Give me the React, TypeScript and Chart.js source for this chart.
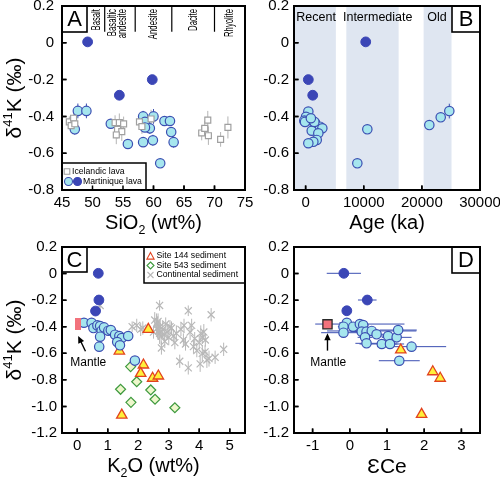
import React, { useEffect, useRef } from "react";
import { Chart, registerables } from "chart.js";

Chart.register(...registerables);

const FONT = "'Liberation Sans', Arial, Helvetica, sans-serif";
const W = 500;
const H = 479;

// ---------------- shared ticks ----------------
const D41K_TICKS_TOP = [-0.8, -0.6, -0.4, -0.2, 0, 0.2];
const D41K_TICKS_BOTTOM = [-1.2, -1.0, -0.8, -0.6, -0.4, -0.2, 0, 0.2];

// ---------------- Panel A: δ41K vs SiO2 ----------------
const SIO2_TICKS = [45, 50, 55, 60, 65, 70, 75];
const ICE_SIO2 = [46.2, 46.5, 46.9, 47.1, 53.7, 54.4, 55.1, 54.1, 54.8, 53.9, 57.7, 58.1, 59.6, 67.9, 68.4, 68.9, 69.0, 71.0, 72.2];
const ICE_D41K = [-0.43, -0.45, -0.41, -0.44, -0.434, -0.434, -0.441, -0.47, -0.483, -0.501, -0.43, -0.455, -0.414, -0.49, -0.465, -0.42, -0.505, -0.525, -0.46];
const ICE_ERR = [0.03, 0.04, 0.03, 0.03, 0.04, 0.05, 0.04, 0.05, 0.05, 0.05, 0.04, 0.04, 0.05, 0.04, 0.04, 0.05, 0.05, 0.04, 0.06];
const A_LIGHT_SIO2 = [47.6, 49.0, 47.1, 53.0, 55.8, 58.3, 58.6, 60.0, 59.4, 58.6, 58.3, 59.9, 61.1, 61.8, 62.7, 62.9, 63.3];
const A_LIGHT_D41K = [-0.37, -0.37, -0.47, -0.44, -0.55, -0.4, -0.43, -0.4, -0.465, -0.46, -0.54, -0.53, -0.655, -0.425, -0.425, -0.485, -0.54];
const A_LIGHT_ERR = [0.04, 0.04, 0.03, 0.02, 0.02, 0.03, 0.02, 0.04, 0.03, 0.02, 0.02, 0.03, 0.02, 0.02, 0.02, 0.02, 0.03];
const A_DARK_SIO2 = [49.2, 54.4, 59.8];
const A_DARK_D41K = [0.005, -0.285, -0.2];
const ROCK_BOUNDS = [52, 57, 63, 70];
const ROCK_BOUND_BOTTOM = 0.06;
const ROCK_NAMES = ["Basalt", "Basaltic", "andesite", "Andesite", "Dacite", "Rhyolite"];
const ROCK_NAME_SIO2 = [50.6, 53.3, 55.0, 60.0, 66.5, 72.4];

// ---------------- Panel B: δ41K vs Age ----------------
const AGE_TICKS = [0, 10000, 20000, 30000];
const ERA_NAMES = ["Recent", "Intermediate", "Old"];
const ERA_START = [-2000, 7000, 20300];
const ERA_END = [5200, 16000, 25100];
const ERA_LABEL_AGE = [1800, 12400, 22600];
const ERA_LABEL_D41K = 0.135;
const B_LIGHT_AGE = [465, 69, -224, 757, 1617, 2478, 2873, 1049, 2185, 1910, 1325, 465, -100, 1500, 900, 10615, 8895, 21280, 23240, 24720];
const B_LIGHT_D41K = [-0.374, -0.402, -0.423, -0.42, -0.434, -0.456, -0.465, -0.478, -0.492, -0.528, -0.538, -0.546, -0.43, -0.43, -0.41, -0.47, -0.655, -0.447, -0.405, -0.371];
const B_LIGHT_ERR = [0.02, 0.02, 0.02, 0.02, 0.02, 0.02, 0.02, 0.02, 0.02, 0.02, 0.02, 0.02, 0.02, 0.02, 0.02, 0.02, 0.02, 0.02, 0.02, 0.04];
const B_DARK_AGE = [465, 1220, 10340];
const B_DARK_D41K = [-0.2, -0.285, 0.005];

// ---------------- Panel C: δ41K vs K2O ----------------
const K2O_TICKS = [0, 1, 2, 3, 4, 5];
const C_LIGHT_K2O = [0.22, 0.47, 0.53, 0.66, 0.75, 0.8, 0.88, 1.02, 1.1, 0.75, 0.72, 1.24, 1.38, 1.46, 1.67, 1.31, 1.4, 1.89];
const C_LIGHT_D41K = [-0.37, -0.37, -0.41, -0.39, -0.395, -0.43, -0.405, -0.43, -0.425, -0.475, -0.55, -0.46, -0.47, -0.485, -0.47, -0.515, -0.54, -0.655];
const C_DARK_K2O = [0.69, 0.71, 0.6];
const C_DARK_D41K = [0.002, -0.199, -0.282];
const SITE144_K2O = [2.33, 1.38, 2.17, 2.08, 2.47, 2.66, 1.46];
const SITE144_D41K = [-0.42, -0.583, -0.688, -0.751, -0.788, -0.771, -1.065];
const SITE543_K2O = [1.75, 1.95, 1.42, 2.41, 2.55, 1.76, 3.2];
const SITE543_D41K = [-0.7, -0.814, -0.871, -0.876, -0.946, -0.969, -1.01];
const CONT_K2O = [0.75, 1.8, 1.95, 2.08, 2.15, 2.54, 2.6, 2.63, 2.66, 2.7, 2.72, 2.75, 2.7, 2.8, 2.87, 2.76, 2.95, 3.04, 3.09, 3.2, 3.25, 3.36, 3.48, 3.5, 3.64, 3.64, 3.7, 3.75, 3.81, 3.92, 4.03, 4.05, 4.1, 4.15, 4.2, 4.19, 4.25, 4.32, 4.39, 4.52, 4.8, 3.0, 3.15, 2.9, 3.55, 4.0, 4.1, 3.4, 2.5, 2.65, 2.85, 3.85];
const CONT_D41K = [-0.24, -0.4, -0.39, -0.42, -0.41, -0.35, -0.38, -0.41, -0.43, -0.45, -0.4, -0.47, -0.24, -0.42, -0.51, -0.56, -0.44, -0.4, -0.41, -0.52, -0.45, -0.66, -0.5, -0.39, -0.28, -0.71, -0.44, -0.39, -0.55, -0.58, -0.68, -0.45, -0.48, -0.44, -0.5, -0.59, -0.65, -0.64, -0.31, -0.63, -0.57, -0.48, -0.47, -0.38, -0.53, -0.52, -0.6, -0.42, -0.44, -0.36, -0.46, -0.49];
const CONT_ERR = [0.04, 0.04, 0.05, 0.05, 0.05, 0.06, 0.08, 0.08, 0.07, 0.08, 0.06, 0.07, 0.04, 0.06, 0.05, 0.05, 0.06, 0.05, 0.05, 0.05, 0.06, 0.05, 0.05, 0.05, 0.04, 0.05, 0.06, 0.05, 0.05, 0.05, 0.06, 0.06, 0.05, 0.06, 0.05, 0.05, 0.06, 0.06, 0.05, 0.05, 0.05, 0.06, 0.05, 0.05, 0.05, 0.05, 0.06, 0.05, 0.05, 0.06, 0.05, 0.05];
const MANTLE_C = { x: 0.03, y: -0.38 };
const MANTLE_C_ARROW = { fromX: 0.27, fromY: -0.585, toX: 0.03, toY: -0.47, textX: 0.36, textY: -0.67 };

// ---------------- Panel D: δ41K vs εCe ----------------
const ECE_TICKS = [-1, 0, 1, 2, 3];
const D_LIGHT_ECE = [-0.08, -0.17, -0.17, 0.09, 0.27, 0.36, 0.32, 0.45, 0.59, 0.72, 0.41, 0.45, 0.86, 1.03, 1.08, 1.26, 1.3, 1.66, 1.33];
const D_LIGHT_D41K = [-0.37, -0.4, -0.445, -0.4, -0.38, -0.387, -0.437, -0.437, -0.432, -0.457, -0.48, -0.525, -0.53, -0.47, -0.53, -0.48, -0.425, -0.55, -0.656];
const D_LIGHT_XERR = [0.2, 0.15, 0.6, 0.25, 1.2, 0.15, 0.3, 0.3, 1.2, 0.3, 0.2, 0.3, 0.6, 0.25, 0.2, 0.4, 0.5, 0.93, 0.55];
const D_DARK_ECE = [-0.16, 0.47, -0.08];
const D_DARK_D41K = [0.002, -0.199, -0.28];
const D_DARK_XERR = [0.46, 0.25, 0.12];
const D_SITE144_ECE = [1.37, 2.23, 2.43, 1.93];
const D_SITE144_D41K = [-0.575, -0.739, -0.788, -1.06];
const MANTLE_D = { x: -0.6, y: -0.382 };
const MANTLE_D_ARROW = { fromX: -0.6, fromY: -0.58, toX: -0.6, toY: -0.45, textX: -0.58, textY: -0.67 };

// ---------------- styling ----------------
const LIGHT_FILL = "#a6e6ee";
const BLUE_EDGE = "#3b4fb2";
const DARK_BLUE = "#3b46b6";
const TRI_FILL = "#fff03a";
const TRI_EDGE = "#e2421e";
const DIA_FILL = "#eef7cc";
const DIA_EDGE = "#3e9a3e";
const CONT_GRAY = "#b8b8b8";
const ICE_GRAY = "#a0a0a0";
const MANTLE_PINK = "#f2727c";
const BAND = "#dfe6f1";
const TICK_SIZE = 15;
const TITLE_SIZE = 20;
const LEGEND_SIZE = 8.7;

type Geo = { left: number; right: number; top: number; bottom: number };
const GEO_A: Geo = { left: 62, right: 245, top: 6, bottom: 190 };
const GEO_B: Geo = { left: 294, right: 480, top: 6, bottom: 190 };
const GEO_C: Geo = { left: 62, right: 245, top: 247, bottom: 433 };
const GEO_D: Geo = { left: 294, right: 480, top: 247, bottom: 433 };

const pts = (xs: number[], ys: number[]) => xs.map((x, i) => ({ x, y: ys[i] }));
const fmtD = (v: number) => (Math.abs(v) < 1e-9 ? "0" : v.toFixed(1));
const fmtPlain = (v: number) => String(Math.round(v * 1000) / 1000);

const LIGHT_STYLE = {
  pointStyle: "circle",
  pointRadius: 4.7,
  pointBackgroundColor: LIGHT_FILL,
  pointBorderColor: BLUE_EDGE,
  pointBorderWidth: 1.2,
};
const DARK_STYLE = {
  pointStyle: "circle",
  pointRadius: 4.9,
  pointBackgroundColor: DARK_BLUE,
  pointBorderColor: DARK_BLUE,
  pointBorderWidth: 1,
};
const TRI_STYLE = {
  pointStyle: "triangle",
  pointRadius: 6,
  pointBackgroundColor: TRI_FILL,
  pointBorderColor: TRI_EDGE,
  pointBorderWidth: 1.3,
};

function makeOptions(
  g: Geo,
  xr: [number, number],
  yr: [number, number],
  xTicks: number[],
  yTicks: number[],
  xFmt: (v: number) => string,
  yPad: number
): any {
  const YW = 40;
  const XH = 40;
  return {
    animation: false,
    responsive: false,
    maintainAspectRatio: false,
    events: [],
    layout: {
      padding: { left: g.left - YW, right: W - g.right, top: g.top, bottom: H - g.bottom - XH },
    },
    plugins: { legend: { display: false }, tooltip: { enabled: false }, title: { display: false } },
    scales: {
      x: {
        type: "linear",
        position: "bottom",
        min: xr[0],
        max: xr[1],
        afterBuildTicks: (s: any) => {
          s.ticks = xTicks.map((v) => ({ value: v }));
        },
        afterFit: (s: any) => {
          s.height = XH;
          s.paddingLeft = 0;
          s.paddingRight = 0;
        },
        grid: { display: false, drawTicks: false },
        border: { display: false },
        ticks: {
          color: "#000",
          font: { family: FONT, size: TICK_SIZE, lineHeight: 1.1 },
          padding: 5,
          maxRotation: 0,
          minRotation: 0,
          autoSkip: false,
          callback: (v: any) => xFmt(Number(v)),
        },
      },
      y: {
        type: "linear",
        position: "left",
        min: yr[0],
        max: yr[1],
        afterBuildTicks: (s: any) => {
          s.ticks = yTicks.map((v) => ({ value: v }));
        },
        afterFit: (s: any) => {
          s.width = YW;
          s.paddingTop = 0;
          s.paddingBottom = 0;
        },
        grid: { display: false, drawTicks: false },
        border: { display: false },
        ticks: {
          color: "#000",
          font: { family: FONT, size: TICK_SIZE },
          padding: yPad,
          autoSkip: false,
          callback: (v: any) => fmtD(Number(v)),
        },
      },
    },
  };
}

// ---------------- drawing helpers ----------------
const errorBars = {
  id: "errbars",
  beforeDatasetsDraw(chart: any) {
    const { ctx, chartArea: a } = chart;
    const x = chart.scales.x;
    const y = chart.scales.y;
    ctx.save();
    ctx.beginPath();
    ctx.rect(a.left, a.top, a.right - a.left, a.bottom - a.top);
    ctx.clip();
    chart.data.datasets.forEach((ds: any) => {
      if (!ds.errY && !ds.errX) return;
      ctx.strokeStyle = ds.errColor || "#888";
      ctx.lineWidth = ds.errWidth || 1;
      ctx.beginPath();
      ds.data.forEach((p: any, i: number) => {
        const px = x.getPixelForValue(p.x);
        const py = y.getPixelForValue(p.y);
        if (ds.errY && ds.errY[i]) {
          ctx.moveTo(px, y.getPixelForValue(p.y - ds.errY[i]));
          ctx.lineTo(px, y.getPixelForValue(p.y + ds.errY[i]));
        }
        if (ds.errX && ds.errX[i]) {
          ctx.moveTo(x.getPixelForValue(p.x - ds.errX[i]), py);
          ctx.lineTo(x.getPixelForValue(p.x + ds.errX[i]), py);
        }
      });
      ctx.stroke();
    });
    ctx.restore();
  },
};

function frameAndTicks(chart: any) {
  const { ctx, chartArea: a } = chart;
  const x = chart.scales.x;
  const y = chart.scales.y;
  ctx.save();
  ctx.strokeStyle = "#000";
  ctx.lineWidth = 1.5;
  ctx.beginPath();
  x.ticks.forEach((t: any) => {
    const p = x.getPixelForValue(t.value);
    ctx.moveTo(p, a.bottom);
    ctx.lineTo(p, a.bottom - 4.5);
  });
  y.ticks.forEach((t: any) => {
    const p = y.getPixelForValue(t.value);
    ctx.moveTo(a.left, p);
    ctx.lineTo(a.left + 4.5, p);
  });
  ctx.stroke();
  ctx.lineWidth = 2;
  ctx.strokeRect(a.left, a.top, a.right - a.left, a.bottom - a.top);
  ctx.restore();
}

type Seg = { t: string; s?: "sub" | "sup" };
function drawRich(ctx: CanvasRenderingContext2D, segs: Seg[], cx: number, cy: number, size: number, rot = 0) {
  ctx.save();
  ctx.translate(cx, cy);
  if (rot) ctx.rotate(rot);
  const fs = (sg: Seg) => (sg.s ? size * 0.62 : size);
  let total = 0;
  segs.forEach((sg) => {
    ctx.font = `${fs(sg)}px ${FONT}`;
    total += ctx.measureText(sg.t).width;
  });
  let xx = -total / 2;
  ctx.textAlign = "left";
  ctx.textBaseline = "alphabetic";
  ctx.fillStyle = "#000";
  const base = size * 0.36;
  segs.forEach((sg) => {
    ctx.font = `${fs(sg)}px ${FONT}`;
    const dy = sg.s === "sub" ? size * 0.22 : sg.s === "sup" ? -size * 0.4 : 0;
    ctx.fillText(sg.t, xx, base + dy);
    xx += ctx.measureText(sg.t).width;
  });
  ctx.restore();
}

function letterBox(ctx: CanvasRenderingContext2D, letter: string, x0: number, y0: number, w: number, h: number) {
  ctx.save();
  ctx.fillStyle = "#fff";
  ctx.fillRect(x0, y0, w, h);
  ctx.strokeStyle = "#000";
  ctx.lineWidth = 1.6;
  ctx.strokeRect(x0, y0, w, h);
  ctx.fillStyle = "#000";
  ctx.font = `22px ${FONT}`;
  ctx.textAlign = "center";
  ctx.textBaseline = "middle";
  ctx.fillText(letter, x0 + w / 2, y0 + h / 2 + 1);
  ctx.restore();
}

function marker(ctx: CanvasRenderingContext2D, kind: string, x: number, y: number) {
  ctx.save();
  ctx.beginPath();
  if (kind === "light" || kind === "dark") {
    ctx.arc(x, y, 4, 0, Math.PI * 2);
    ctx.fillStyle = kind === "light" ? LIGHT_FILL : DARK_BLUE;
    ctx.fill();
    ctx.strokeStyle = kind === "light" ? BLUE_EDGE : DARK_BLUE;
    ctx.lineWidth = 1.1;
    ctx.stroke();
  } else if (kind === "ice") {
    ctx.rect(x - 2.8, y - 2.8, 5.6, 5.6);
    ctx.fillStyle = "#fff";
    ctx.fill();
    ctx.strokeStyle = ICE_GRAY;
    ctx.lineWidth = 1.1;
    ctx.stroke();
  } else if (kind === "tri") {
    ctx.moveTo(x, y - 4);
    ctx.lineTo(x + 3.6, y + 2.6);
    ctx.lineTo(x - 3.6, y + 2.6);
    ctx.closePath();
    ctx.fillStyle = "#fff";
    ctx.fill();
    ctx.strokeStyle = TRI_EDGE;
    ctx.lineWidth = 1.1;
    ctx.stroke();
  } else if (kind === "dia") {
    ctx.moveTo(x, y - 3.5);
    ctx.lineTo(x + 3.5, y);
    ctx.lineTo(x, y + 3.5);
    ctx.lineTo(x - 3.5, y);
    ctx.closePath();
    ctx.fillStyle = "#fff";
    ctx.fill();
    ctx.strokeStyle = DIA_EDGE;
    ctx.lineWidth = 1.1;
    ctx.stroke();
  } else if (kind === "cross") {
    ctx.moveTo(x - 3, y - 3);
    ctx.lineTo(x + 3, y + 3);
    ctx.moveTo(x + 3, y - 3);
    ctx.lineTo(x - 3, y + 3);
    ctx.strokeStyle = CONT_GRAY;
    ctx.lineWidth = 1.1;
    ctx.stroke();
  }
  ctx.restore();
}

function arrow(ctx: CanvasRenderingContext2D, x1: number, y1: number, x2: number, y2: number) {
  const ang = Math.atan2(y2 - y1, x2 - x1);
  const hl = 7;
  const hw = 3.2;
  ctx.save();
  ctx.strokeStyle = "#000";
  ctx.fillStyle = "#000";
  ctx.lineWidth = 1.4;
  ctx.beginPath();
  ctx.moveTo(x1, y1);
  ctx.lineTo(x2 - Math.cos(ang) * hl * 0.8, y2 - Math.sin(ang) * hl * 0.8);
  ctx.stroke();
  ctx.beginPath();
  ctx.moveTo(x2, y2);
  ctx.lineTo(x2 - Math.cos(ang) * hl - Math.sin(ang) * hw, y2 - Math.sin(ang) * hl + Math.cos(ang) * hw);
  ctx.lineTo(x2 - Math.cos(ang) * hl + Math.sin(ang) * hw, y2 - Math.sin(ang) * hl - Math.cos(ang) * hw);
  ctx.closePath();
  ctx.fill();
  ctx.restore();
}

function text(ctx: CanvasRenderingContext2D, s: string, x: number, y: number, size: number, align: CanvasTextAlign = "left") {
  ctx.save();
  ctx.fillStyle = "#000";
  ctx.font = `${size}px ${FONT}`;
  ctx.textAlign = align;
  ctx.textBaseline = "middle";
  ctx.fillText(s, x, y);
  ctx.restore();
}

const Y_TITLE: Seg[] = [{ t: "δ" }, { t: "41", s: "sup" }, { t: "K (‰)" }];

function yTitle(chart: any) {
  const a = chart.chartArea;
  drawRich(chart.ctx, Y_TITLE, a.left - 49, (a.top + a.bottom) / 2, TITLE_SIZE + 1, -Math.PI / 2);
}
function xTitle(chart: any, segs: Seg[], size = TITLE_SIZE) {
  const a = chart.chartArea;
  drawRich(chart.ctx, segs, (a.left + a.right) / 2, a.bottom + 32, size);
}

function decorPlugin(before: ((c: any) => void) | null, after: (c: any) => void) {
  return {
    id: "decor",
    beforeDraw(chart: any) {
      if (before) before(chart);
    },
    afterDraw(chart: any) {
      frameAndTicks(chart);
      after(chart);
    },
  };
}

// ---------------- panels ----------------
function buildA(): any {
  return {
    type: "scatter",
    data: {
      datasets: [
        { data: pts(A_DARK_SIO2, A_DARK_D41K), ...DARK_STYLE },
        {
          data: pts(ICE_SIO2, ICE_D41K),
          errY: ICE_ERR,
          errColor: "#b4b4b4",
          pointStyle: "rect",
          pointRadius: 4.2,
          pointBackgroundColor: "#fff",
          pointBorderColor: ICE_GRAY,
          pointBorderWidth: 1.2,
        },
        { data: pts(A_LIGHT_SIO2, A_LIGHT_D41K), errY: A_LIGHT_ERR, errColor: BLUE_EDGE, ...LIGHT_STYLE },
      ],
    },
    options: makeOptions(GEO_A, [45, 75], [-0.8, 0.2], SIO2_TICKS, D41K_TICKS_TOP, fmtPlain, 8),
    plugins: [
      errorBars,
      decorPlugin(null, (chart: any) => {
        const { ctx, chartArea: a } = chart;
        const x = chart.scales.x;
        const y = chart.scales.y;
        ctx.save();
        ctx.strokeStyle = "#000";
        ctx.lineWidth = 1.2;
        ctx.beginPath();
        ROCK_BOUNDS.forEach((v) => {
          const px = x.getPixelForValue(v);
          ctx.moveTo(px, a.top);
          ctx.lineTo(px, y.getPixelForValue(ROCK_BOUND_BOTTOM));
        });
        ctx.stroke();
        ctx.fillStyle = "#000";
        ctx.font = `12.5px ${FONT}`;
        ctx.textAlign = "right";
        ctx.textBaseline = "middle";
        ROCK_NAMES.forEach((n, i) => {
          ctx.save();
          ctx.translate(x.getPixelForValue(ROCK_NAME_SIO2[i]), a.top + 3);
          ctx.rotate(-Math.PI / 2);
          ctx.scale(0.62, 1);
          ctx.fillText(n, 0, 0);
          ctx.restore();
        });
        ctx.restore();
        letterBox(ctx, "A", a.left, a.top, 25, 26);
        // legend
        const lx = a.left;
        const ly = a.bottom - 27;
        ctx.save();
        ctx.fillStyle = "#fff";
        ctx.fillRect(lx, ly, 84, 27);
        ctx.strokeStyle = "#000";
        ctx.lineWidth = 1.5;
        ctx.strokeRect(lx, ly, 84, 27);
        ctx.restore();
        marker(ctx, "ice", lx + 5, ly + 8.5);
        text(ctx, "Icelandic lava", lx + 10, ly + 9, LEGEND_SIZE);
        marker(ctx, "light", lx + 6.5, ly + 18.5);
        marker(ctx, "dark", lx + 15.5, ly + 18.5);
        text(ctx, "Martinique lava", lx + 21, ly + 19, LEGEND_SIZE);
        yTitle(chart);
        xTitle(chart, [{ t: "SiO" }, { t: "2", s: "sub" }, { t: " (wt%)" }]);
        frameAndTicks(chart);
      }),
    ],
  };
}

function buildB(): any {
  return {
    type: "scatter",
    data: {
      datasets: [
        { data: pts(B_DARK_AGE, B_DARK_D41K), ...DARK_STYLE },
        { data: pts(B_LIGHT_AGE, B_LIGHT_D41K), errY: B_LIGHT_ERR, errColor: BLUE_EDGE, ...LIGHT_STYLE },
      ],
    },
    options: makeOptions(GEO_B, [-2000, 30000], [-0.8, 0.2], AGE_TICKS, D41K_TICKS_TOP, (v) => String(v), 5),
    plugins: [
      errorBars,
      decorPlugin(
        (chart: any) => {
          const { ctx, chartArea: a } = chart;
          const x = chart.scales.x;
          ctx.save();
          ctx.fillStyle = BAND;
          ERA_START.forEach((s, i) => {
            const x0 = Math.max(a.left, x.getPixelForValue(s));
            const x1 = Math.min(a.right, x.getPixelForValue(ERA_END[i]));
            ctx.fillRect(x0, a.top, x1 - x0, a.bottom - a.top);
          });
          ctx.restore();
        },
        (chart: any) => {
          const { ctx, chartArea: a } = chart;
          const x = chart.scales.x;
          const y = chart.scales.y;
          ERA_NAMES.forEach((n, i) => {
            text(ctx, n, x.getPixelForValue(ERA_LABEL_AGE[i]), y.getPixelForValue(ERA_LABEL_D41K), 12.5, "center");
          });
          letterBox(ctx, "B", a.right - 28, a.top, 28, 26);
          xTitle(chart, [{ t: "Age (ka)" }]);
          frameAndTicks(chart);
        }
      ),
    ],
  };
}

function mantleBarImage() {
  const c = document.createElement("canvas");
  c.width = 6;
  c.height = 12;
  const g = c.getContext("2d")!;
  g.fillStyle = MANTLE_PINK;
  g.fillRect(0, 0, 6, 12);
  return c;
}

function buildC(): any {
  return {
    type: "scatter",
    data: {
      datasets: [
        { data: [MANTLE_C], pointStyle: mantleBarImage(), pointRadius: 6 },
        { data: pts(C_DARK_K2O, C_DARK_D41K), ...DARK_STYLE },
        { data: pts(C_LIGHT_K2O, C_LIGHT_D41K), ...LIGHT_STYLE },
        { data: pts(SITE144_K2O, SITE144_D41K), ...TRI_STYLE },
        {
          data: pts(SITE543_K2O, SITE543_D41K),
          pointStyle: "rectRot",
          pointRadius: 5,
          pointBackgroundColor: DIA_FILL,
          pointBorderColor: DIA_EDGE,
          pointBorderWidth: 1.2,
        },
        {
          data: pts(CONT_K2O, CONT_D41K),
          errY: CONT_ERR,
          errColor: CONT_GRAY,
          pointStyle: "crossRot",
          pointRadius: 5,
          pointBorderColor: CONT_GRAY,
          pointBackgroundColor: CONT_GRAY,
          pointBorderWidth: 1.2,
        },
      ],
    },
    options: makeOptions(GEO_C, [-0.5, 5.5], [-1.2, 0.2], K2O_TICKS, D41K_TICKS_BOTTOM, fmtPlain, 5),
    plugins: [
      errorBars,
      decorPlugin(null, (chart: any) => {
        const { ctx, chartArea: a } = chart;
        const x = chart.scales.x;
        const y = chart.scales.y;
        arrow(
          ctx,
          x.getPixelForValue(MANTLE_C_ARROW.fromX),
          y.getPixelForValue(MANTLE_C_ARROW.fromY),
          x.getPixelForValue(MANTLE_C_ARROW.toX),
          y.getPixelForValue(MANTLE_C_ARROW.toY)
        );
        text(ctx, "Mantle", x.getPixelForValue(MANTLE_C_ARROW.textX), y.getPixelForValue(MANTLE_C_ARROW.textY), 12, "center");
        letterBox(ctx, "C", a.left, a.top, 25, 25);
        // legend
        const lx = a.right - 101;
        const ly = a.top;
        ctx.save();
        ctx.fillStyle = "#fff";
        ctx.fillRect(lx, ly, 101, 36);
        ctx.strokeStyle = "#000";
        ctx.lineWidth = 1.5;
        ctx.strokeRect(lx, ly, 101, 36);
        ctx.restore();
        marker(ctx, "tri", lx + 6.5, ly + 9.5);
        text(ctx, "Site 144 sediment", lx + 12.5, ly + 9, LEGEND_SIZE);
        marker(ctx, "dia", lx + 6.5, ly + 18.5);
        text(ctx, "Site 543 sediment", lx + 12.5, ly + 18.5, LEGEND_SIZE);
        marker(ctx, "cross", lx + 6.5, ly + 28);
        text(ctx, "Continental sediment", lx + 12.5, ly + 28, LEGEND_SIZE);
        yTitle(chart);
        xTitle(chart, [{ t: "K" }, { t: "2", s: "sub" }, { t: "O (wt%)" }]);
        frameAndTicks(chart);
      }),
    ],
  };
}

function buildD(): any {
  return {
    type: "scatter",
    data: {
      datasets: [
        {
          data: [MANTLE_D],
          pointStyle: "rect",
          pointRadius: 6.5,
          pointBackgroundColor: MANTLE_PINK,
          pointBorderColor: "#2a2a2a",
          pointBorderWidth: 1.3,
        },
        { data: pts(D_DARK_ECE, D_DARK_D41K), errX: D_DARK_XERR, errColor: BLUE_EDGE, ...DARK_STYLE },
        { data: pts(D_SITE144_ECE, D_SITE144_D41K), ...TRI_STYLE },
        { data: pts(D_LIGHT_ECE, D_LIGHT_D41K), errX: D_LIGHT_XERR, errColor: BLUE_EDGE, ...LIGHT_STYLE },
      ],
    },
    options: makeOptions(GEO_D, [-1.5, 3.5], [-1.2, 0.2], ECE_TICKS, D41K_TICKS_BOTTOM, fmtPlain, 5),
    plugins: [
      errorBars,
      decorPlugin(null, (chart: any) => {
        const { ctx, chartArea: a } = chart;
        const x = chart.scales.x;
        const y = chart.scales.y;
        arrow(
          ctx,
          x.getPixelForValue(MANTLE_D_ARROW.fromX),
          y.getPixelForValue(MANTLE_D_ARROW.fromY),
          x.getPixelForValue(MANTLE_D_ARROW.toX),
          y.getPixelForValue(MANTLE_D_ARROW.toY)
        );
        text(ctx, "Mantle", x.getPixelForValue(MANTLE_D_ARROW.textX), y.getPixelForValue(MANTLE_D_ARROW.textY), 12, "center");
        letterBox(ctx, "D", a.right - 28, a.top, 28, 26);
        xTitle(chart, [{ t: "ƐCe" }], 21);
        frameAndTicks(chart);
      }),
    ],
  };
}

function Panel({ build }: { build: () => any }) {
  const ref = useRef<HTMLCanvasElement | null>(null);
  useEffect(() => {
    const chart = new Chart(ref.current as HTMLCanvasElement, build());
    return () => chart.destroy();
  }, []);
  return (
    <canvas
      ref={ref}
      width={W}
      height={H}
      style={{ position: "absolute", left: 0, top: 0, width: W, height: H }}
    />
  );
}

export default function App() {
  return (
    <div style={{ position: "absolute", left: 0, top: 0, width: W, height: H, background: "#fff", overflow: "hidden" }}>
      <Panel build={buildA} />
      <Panel build={buildB} />
      <Panel build={buildC} />
      <Panel build={buildD} />
    </div>
  );
}
